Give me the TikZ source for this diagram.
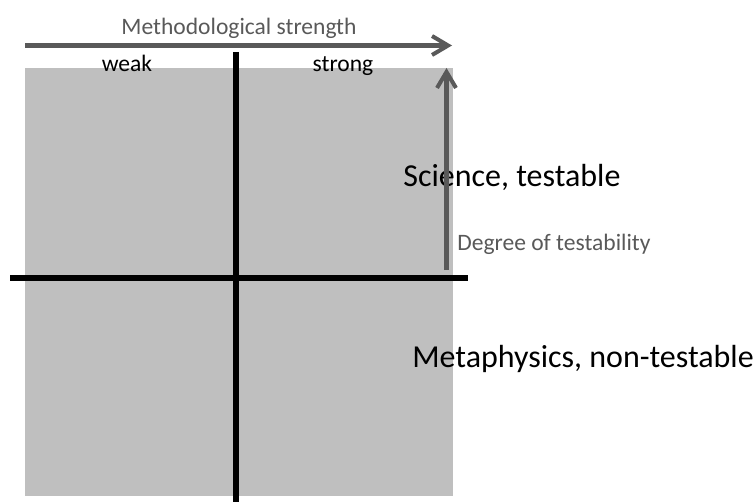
\documentclass[tikz,border=0pt]{standalone}
\usepackage{fontspec}
\setmainfont{Carlito}
\usepackage{xcolor}
\usetikzlibrary{arrows.meta, positioning}

\definecolor{quadgray}{RGB}{191,191,191}
\definecolor{gaugegray}{RGB}{89,89,89}

\begin{document}
\begin{tikzpicture}[
  >={Straight Barb[length=3.2mm, width=3.8mm]},
  divider/.style={line width=3.7pt, draw=black},
  gauge/.style={->, line width=2.3pt, draw=gaugegray},
  smalltext/.style={inner sep=0pt, font=\fontsize{13.4}{16}\selectfont},
  bigtext/.style={inner sep=0pt, font=\fontsize{18.2}{22}\selectfont}
]
  \useasboundingbox (0,0) rectangle (15.08,10.04);
  \fill[quadgray] (0.5,0.12) rectangle (9.06,8.68);

  % quadrant dividers
  \coordinate (vtop) at (4.72,9.0);
  \coordinate (vbot) at (4.72,0.0);
  \coordinate (hleft) at (0.2,4.48);
  \coordinate (hright) at (9.36,4.48);
  \draw[divider] (vtop) -- (vbot);
  \draw[divider] (hleft) -- (hright);

  \node[smalltext, text=gaugegray, anchor=base] (method) at (4.78,9.34) {Methodological strength};
  \node[smalltext, anchor=base] (weak) at (2.54,8.6) {weak};
  \node[smalltext, anchor=base] (strong) at (6.86,8.6) {strong};
  \node[bigtext, anchor=base west] (sci) at (8.06,6.32) {Science, testable};
  \node[smalltext, text=gaugegray, anchor=base west] (degree) at (9.14,5.04) {Degree of testability};
  \node[bigtext, anchor=base west] (meta) at (8.24,2.7) {Metaphysics, non-testable};

  % gauge arrows
  \coordinate (mleft) at (0.5,9.13);
  \coordinate (mright) at (9.04,9.13);
  \coordinate (tlow) at (8.93,4.64);
  \coordinate (thigh) at (8.93,8.68);
  \draw[gauge] (mleft) -- (mright);
  \draw[gauge] (tlow) -- (thigh);
\end{tikzpicture}
\end{document}
